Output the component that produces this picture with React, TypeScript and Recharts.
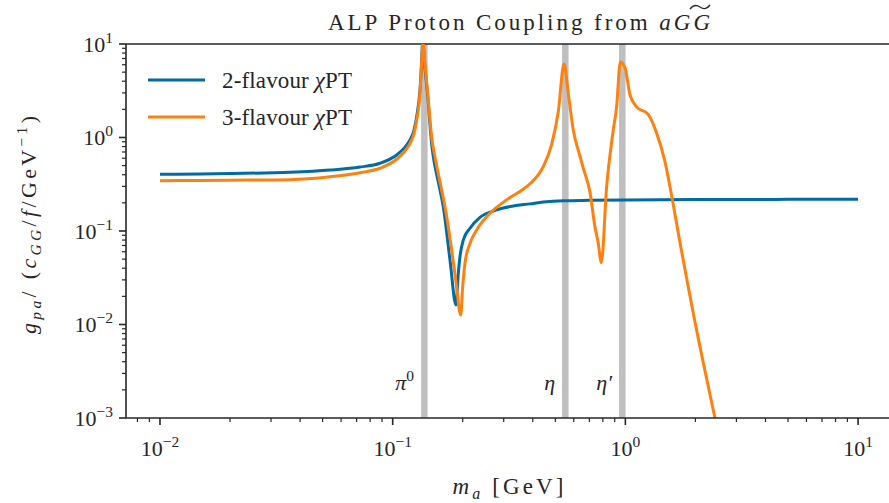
import React from 'react';
import { LineChart, Line, XAxis, YAxis, ReferenceArea, ReferenceLine } from 'recharts';

// axion mass m_a [GeV] and g_pa / (c_GG / f / GeV^-1), 2-flavour chiPT
const MA_2F = [
  0.01, 0.015, 0.02, 0.0362, 0.0538, 0.0724, 0.0882, 0.104, 0.112, 0.1187, 0.1235, 0.1268, 0.131, 0.133,
  0.1345, 0.1377, 0.1414, 0.1471, 0.1495, 0.157, 0.165, 0.1763, 0.1871, 0.1914, 0.1946, 0.2011, 0.2149,
  0.2372, 0.2798, 0.3299, 0.389, 0.4437, 0.545, 0.7, 1.0, 2.0, 5.0, 10.0,
];
const GPA_2F = [
  0.404, 0.408, 0.412, 0.425, 0.449, 0.483, 0.53, 0.65, 0.77, 0.94, 1.2, 1.67, 3.22, 6.0,
  10.5, 5.5, 2.8, 0.85, 0.62, 0.336, 0.182, 0.049, 0.0162, 0.0353, 0.0531, 0.08, 0.107,
  0.14, 0.168, 0.185, 0.195, 0.204, 0.211, 0.213, 0.215, 0.217, 0.218, 0.219,
];

// 3-flavour chiPT
const MA_3F = [
  0.01, 0.015, 0.02, 0.0362, 0.0538, 0.0724, 0.0882, 0.104, 0.112, 0.1187, 0.1235, 0.1268, 0.131, 0.133,
  0.135, 0.1377, 0.1414, 0.1471, 0.152, 0.1597, 0.1678, 0.1793, 0.1871, 0.196, 0.1999, 0.2045, 0.2149,
  0.2296, 0.2535, 0.2798, 0.3192, 0.364, 0.389, 0.4437, 0.4824, 0.515, 0.5447, 0.57, 0.5972, 0.6381,
  0.6594, 0.7045, 0.7404, 0.7647, 0.788, 0.831, 0.887, 0.917, 0.951, 0.996, 1.047, 1.118, 1.254, 1.363,
  1.48, 1.58, 1.717, 1.834, 1.958, 2.427,
];
const GPA_3F = [
  0.345, 0.347, 0.349, 0.354, 0.38, 0.42, 0.469, 0.585, 0.7, 0.867, 1.1, 1.54, 2.97, 6.0,
  10.5, 6.0, 3.0, 1.0, 0.62, 0.334, 0.182, 0.0627, 0.0285, 0.0126, 0.0254, 0.0452, 0.0738,
  0.1026, 0.142, 0.179, 0.228, 0.28, 0.32, 0.487, 0.85, 1.9, 6.1, 2.8, 1.2, 0.63,
  0.47, 0.26, 0.11, 0.074, 0.046, 0.3, 1.2, 2.13, 6.4, 5.6, 2.85, 2.13, 1.77, 1.11,
  0.55, 0.24, 0.075, 0.031, 0.0132, 0.001,
];

// meson masses marked by grey bands
const MESON_MASS = [0.1368, 0.552, 0.97];
const MESON_NAME = ['π', 'η', 'η′'];
const MESON_SUP = ['0', '', ''];

const X_DECADES = [0.001, 0.01, 0.1, 1, 10];
const Y_DECADES = [0.001, 0.01, 0.1, 1, 10];

const BLUE = '#006BA4';
const ORANGE = '#FF800E';
const BAND = '#bfbfbf';
const INK = '#262626';
const FONT = '"Liberation Serif", "DejaVu Serif", serif';
const TXT = { fontFamily: FONT };

const X_DOMAIN = [0.007144, 13.58];
const Y_DOMAIN = [0.001, 10];
const BAND_HALF = 1.0327;

const minorTicks = (decades: number[], lo: number, hi: number) => {
  const out: number[] = [];
  decades.forEach((d) => {
    for (let k = 1; k < 10; k++) {
      const v = +(d * k).toPrecision(6);
      if (v >= lo && v <= hi) out.push(v);
    }
  });
  return out;
};

const isMajor = (v: number) => {
  const l = Math.log10(v);
  return Math.abs(l - Math.round(l)) < 1e-6;
};

const expText = (v: number) => {
  const e = Math.round(Math.log10(v));
  return e < 0 ? `\u2212${-e}` : `${e}`;
};

function XTick(props: any) {
  const { x, y, payload } = props;
  const major = isMajor(payload.value);
  return (
    <g>
      <line x1={x} x2={x} y1={y} y2={y + (major ? 7 : 4)} stroke={INK} strokeWidth={major ? 1.6 : 1.2} />
      {major && (
        <text x={x} y={y + 38} textAnchor="middle" style={TXT} fontSize={22} fill={INK}>
          10<tspan dy={-9} fontSize={15.5}>{expText(payload.value)}</tspan>
        </text>
      )}
    </g>
  );
}

function YTick(props: any) {
  const { x, y, payload } = props;
  const major = isMajor(payload.value);
  return (
    <g>
      <line x1={x} x2={x - (major ? 7 : 4)} y1={y} y2={y} stroke={INK} strokeWidth={major ? 1.6 : 1.2} />
      {major && (
        <text x={x - 13} y={y + 7.5} textAnchor="end" style={TXT} fontSize={22} fill={INK}>
          10<tspan dy={-9} fontSize={15.5}>{expText(payload.value)}</tspan>
        </text>
      )}
    </g>
  );
}

function MesonLabel({ viewBox, idx }: any) {
  if (!viewBox) return null;
  return (
    <text
      x={viewBox.x - 7}
      y={viewBox.y + viewBox.height - 28}
      textAnchor="end"
      style={TXT}
      fontSize={22}
      fontStyle="italic"
      fill={INK}
    >
      {MESON_NAME[idx]}
      {MESON_SUP[idx] && (
        <tspan dy={-9} fontSize={15.5} fontStyle="normal">
          {MESON_SUP[idx]}
        </tspan>
      )}
    </text>
  );
}

export default function App() {
  const twoFlavour = MA_2F.map((m, i) => ({ m, g: GPA_2F[i] }));
  const threeFlavour = MA_3F.map((m, i) => ({ m, g: GPA_3F[i] }));
  const xTicks = minorTicks(X_DECADES, X_DOMAIN[0], X_DOMAIN[1]);
  const yTicks = minorTicks(Y_DECADES, Y_DOMAIN[0], Y_DOMAIN[1]);

  return (
    <div style={{ position: 'relative', width: 889, height: 503, background: '#fff' }}>
      <style>{'body{margin:0}'}</style>
      <LineChart width={889} height={503} margin={{ top: 44, right: 0, bottom: 25, left: 0 }}>
        <XAxis
          dataKey="m"
          type="number"
          scale="log"
          domain={X_DOMAIN}
          allowDataOverflow
          ticks={xTicks}
          interval={0}
          tick={<XTick />}
          tickLine={false}
          tickSize={0}
          tickMargin={0}
          height={60}
          axisLine={{ stroke: INK, strokeWidth: 1.6 }}
        />
        <YAxis
          type="number"
          scale="log"
          domain={Y_DOMAIN}
          allowDataOverflow
          ticks={yTicks}
          interval={0}
          tick={<YTick />}
          tickLine={false}
          tickSize={0}
          tickMargin={0}
          width={126}
          axisLine={{ stroke: INK, strokeWidth: 1.6 }}
        />
        {MESON_MASS.map((m, i) => (
          <ReferenceArea
            key={m}
            x1={m / BAND_HALF}
            x2={m * BAND_HALF}
            fill={BAND}
            fillOpacity={1}
            stroke="none"
            label={{ content: (p: any) => <MesonLabel {...p} idx={i} /> }}
          />
        ))}
        <ReferenceLine y={10} stroke={INK} strokeWidth={1.6} />
        <Line
          data={twoFlavour}
          dataKey="g"
          type="monotone"
          stroke={BLUE}
          strokeWidth={3}
          dot={false}
          strokeLinejoin="round"
          isAnimationActive={false}
        />
        <Line
          data={threeFlavour}
          dataKey="g"
          type="monotone"
          stroke={ORANGE}
          strokeWidth={3}
          dot={false}
          strokeLinejoin="round"
          isAnimationActive={false}
        />
      </LineChart>
      <svg
        width={889}
        height={503}
        style={{ position: 'absolute', left: 0, top: 0, pointerEvents: 'none', fontFamily: FONT }}
        fill={INK}
      >
        <text x={519} y={30} textAnchor="middle" fontSize={23} textLength={382} lengthAdjust="spacing">
          ALP Proton Coupling from <tspan fontStyle="italic">aGG</tspan>
        </text>
        {/* wide tilde over the last G */}
        <path d="M690,9 C693,5 697,5 700,7 S706,10 710,5" fill="none" stroke={INK} strokeWidth={1.4} />
        <text x={508} y={494} textAnchor="middle" fontSize={23} textLength={111} lengthAdjust="spacing">
          <tspan fontStyle="italic">m</tspan>
          <tspan fontStyle="italic" fontSize={16} dy={5}>a</tspan>
          <tspan dy={-5}> [GeV]</tspan>
        </text>
        <text
          x={36}
          y={225}
          textAnchor="middle"
          fontSize={22}
          transform="rotate(-90 36 225)"
          textLength={218}
          lengthAdjust="spacing"
        >
          <tspan fontStyle="italic">g</tspan>
          <tspan fontStyle="italic" fontSize={15.5} dy={5}>pa</tspan>
          <tspan dy={-5}>/ (</tspan>
          <tspan fontStyle="italic">c</tspan>
          <tspan fontStyle="italic" fontSize={15.5} dy={5}>GG</tspan>
          <tspan dy={-5}>/</tspan>
          <tspan fontStyle="italic">f</tspan>
          <tspan>/GeV</tspan>
          <tspan fontSize={15.5} dy={-9}>{'\u22121'}</tspan>
          <tspan dy={9}>)</tspan>
        </text>
        <line x1={148} x2={205} y1={80} y2={80} stroke={BLUE} strokeWidth={3} />
        <text x={222} y={88} fontSize={23} textLength={130} lengthAdjust="spacing">
          2-flavour <tspan fontStyle="italic">χ</tspan>PT
        </text>
        <line x1={148} x2={205} y1={117} y2={117} stroke={ORANGE} strokeWidth={3} />
        <text x={222} y={125} fontSize={23} textLength={130} lengthAdjust="spacing">
          3-flavour <tspan fontStyle="italic">χ</tspan>PT
        </text>
      </svg>
    </div>
  );
}
